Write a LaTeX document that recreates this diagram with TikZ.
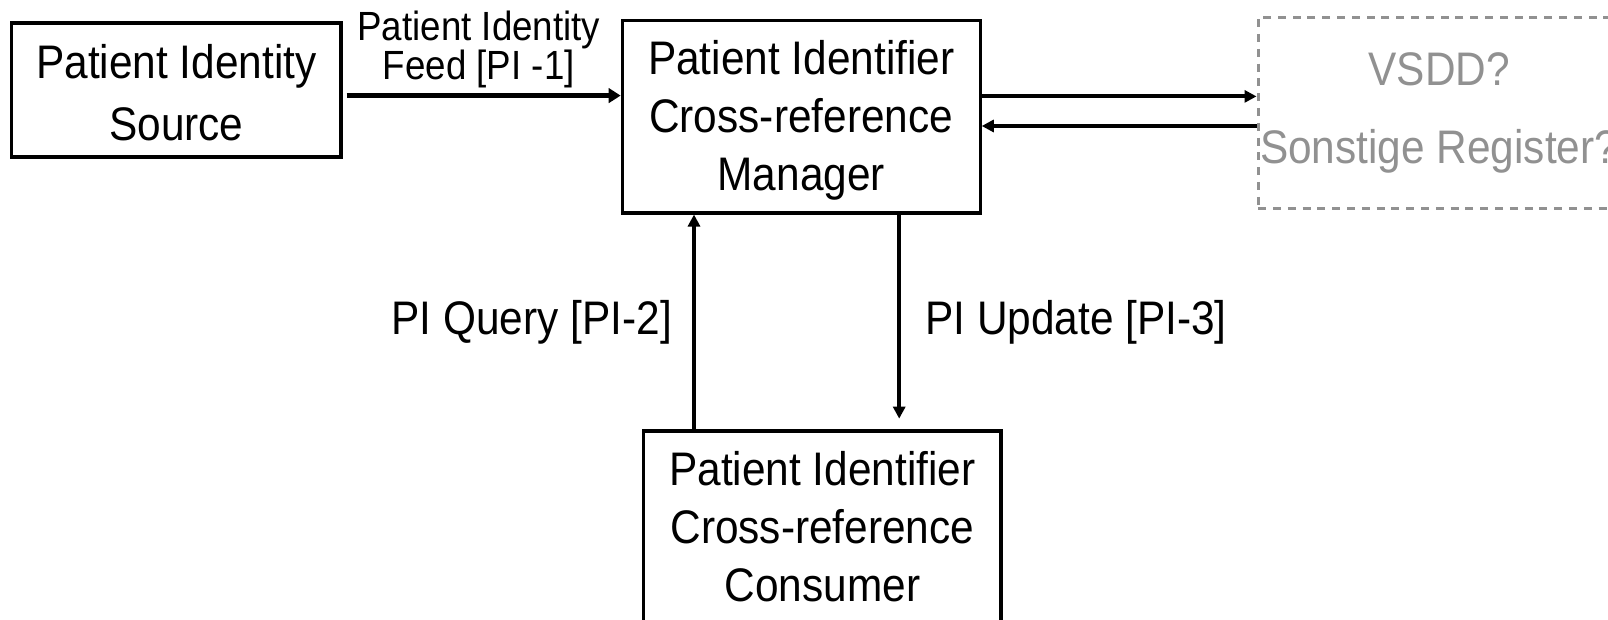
\documentclass[tikz,border=0pt]{standalone}
\usepackage{fontspec}
\setmainfont[FakeStretch=0.9]{Liberation Sans}
\usepackage{tikz}
\usetikzlibrary{arrows.meta}
\usetikzlibrary{calc}
\definecolor{reggray}{RGB}{145,145,145}

\begin{document}
\begin{tikzpicture}[
        box_style/.style={rectangle,draw=black,line width=2.2pt,inner sep=0pt,align=center,
            font=\fontsize{33.5}{41.3}\selectfont},
        reg_style/.style={rectangle,draw=reggray,text=reggray,line width=2.4pt,dash pattern=on 0.2cm off 0.17cm,
            inner sep=0pt,align=center,font=\fontsize{33.5}{56}\selectfont},
        label_style/.style={align=center,font=\fontsize{33.5}{41.3}\selectfont},
        feed_label_style/.style={align=center,font=\fontsize{29}{27.7}\selectfont},
        edge_style/.style={draw=black,line width=2.9pt,-{Triangle[length=0.3cm,width=0.3cm]}},
        feed_edge_style/.style={draw=black,line width=3.9pt,-{Triangle[length=0.3cm,width=0.36cm]}}]

        \useasboundingbox (0,0) rectangle (40.2,15.5);

        \node [box_style,minimum width=8.23cm,minimum height=3.35cm,font=\fontsize{33.5}{43.8}\selectfont](src) at (4.41,13.25) {\rule{0pt}{0.98cm}Patient Identity\\Source};

        \node [box_style,minimum width=8.95cm,minimum height=4.81cm](mgr) at (20.03,12.58) {\strut Patient Identifier\\Cross-reference\\Manager};

        \node [box_style,minimum width=8.93cm,minimum height=4.8cm](con) at (20.56,2.325) {Patient Identifier\\Cross-reference\\Consumer};

        \node [reg_style,minimum width=9.05cm,minimum height=4.79cm](reg) at (35.98,12.675) {VSDD?\\Sonstige Register?};

        % helper rows and columns for the connectors
        \coordinate (feedy) at (0,13.11);
        \coordinate (outy) at (0,13.09);
        \coordinate (iny) at (0,12.35);
        \coordinate (queryx) at (17.35,0);
        \coordinate (updx) at (22.48,0);

        \draw [feed_edge_style] ([xshift=0.1cm]feedy -| src.east) -- (feedy -| mgr.west)
            node[midway,above,feed_label_style,inner sep=0.12cm,xshift=-0.12cm] {Patient Identity\\Feed [PI -1]};

        \draw [edge_style] (outy -| mgr.east) -- (outy -| reg.west);

        \draw [edge_style] (iny -| reg.west) -- (iny -| mgr.east);

        \draw [edge_style] (queryx |- con.north) -- (queryx |- mgr.south)
            node[midway,left,label_style,inner sep=0pt,xshift=-0.5cm] {PI Query [PI-2]};

        \draw [edge_style,shorten >=0.27cm] (updx |- mgr.south) -- (updx |- con.north)
            node[pos=0.5,right,label_style,inner sep=0pt,xshift=0.6cm] {PI Update [PI-3]};

        \end{tikzpicture}
\end{document}
